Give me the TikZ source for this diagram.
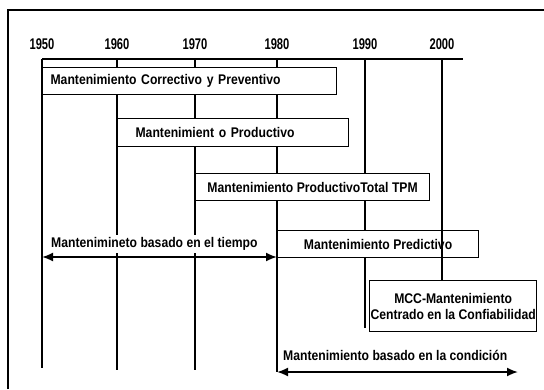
\documentclass[tikz,border=0pt]{standalone}
\usepackage{fontspec}
\newfontfamily\boxfont[FakeStretch=0.87]{Liberation Sans}
\newfontfamily\yearfont[FakeStretch=0.72]{Liberation Sans}
\usetikzlibrary{positioning,calc,arrows.meta}

\tikzset{
  box/.style={draw, fill=white, line width=1.2pt, minimum height=27pt,
    inner ysep=0pt, anchor=north west,
    font=\boxfont\bfseries\fontsize{14}{16}\selectfont},
  lbl/.style={inner sep=2pt, anchor=west,
    font=\boxfont\bfseries\fontsize{14}{16}\selectfont},
  yearlbl/.style={inner sep=0pt, font=\yearfont\bfseries\fontsize{15.5}{16}\selectfont},
  tline/.style={line width=1.2pt},
  span/.style={line width=1.8pt, {Latex[length=11pt,width=9pt]}-{Latex[length=11pt,width=9pt]}}
}

\begin{document}
\begin{tikzpicture}[x=1pt,y=-1pt]
    \useasboundingbox (0,0) rectangle (544,389);
    % Frame
    \draw[line width=1.4pt] (8,389) -- (8,10) -- (544,10);

    % Years and ticks
    \foreach \yr/\x/\yend in {1950/42/368, 1960/117/370, 1970/195/370, 1980/277/372, 1990/365/328} {
        \node[yearlbl] (y\yr) at (\x,44) {\yr};
        \coordinate (t\yr) at (\x,59);
        \coordinate (e\yr) at (\x,\yend);
        \draw[tline] (t\yr) -- (e\yr);
    }
    \node[yearlbl] (y2000) at (442,44) {2000};
    \coordinate (t2000) at (442,59);
    \coordinate (axend) at (463,59);
    \draw[tline] (t1950) -- (axend);

    % Boxes
    \node[box, inner xsep=8pt, text width=278pt, align=left] (mcp) at (42,67) {Mantenimiento Correctivo y Preventivo};
    \node[box, inner xsep=18pt, text width=195pt, align=left, minimum height=28pt] (mp) at (117,118) {Mantenimient o Productivo};
    \node[box, minimum width=234pt] (tpm) at (195,173) {Mantenimiento ProductivoTotal TPM};
    \node[box, minimum width=201pt] (pred) at (277,230) {Mantenimiento Predictivo};
    \node[box, minimum width=166pt, minimum height=51pt, inner xsep=1pt, align=center] (mcc) at (369,280)
        {MCC-Mantenimiento\\Centrado en la Confiabilidad};
    \draw[tline] (t2000) -- (t2000 |- mcc.north);

    % Spans
    \node[lbl, fill=white] (tiempo) at (49,244) {Mantenimineto basado en el tiempo};
    \coordinate (s1a) at (42,257);
    \coordinate (s1b) at (277,257);
    \draw[span] (s1a) -- (s1b);

    \node[lbl] (cond) at (281,355) {Mantenimiento basado en la condici\'on};
    \coordinate (s2b) at (518,372);
    \draw[span] (e1980) -- (s2b);
\end{tikzpicture}
\end{document}
